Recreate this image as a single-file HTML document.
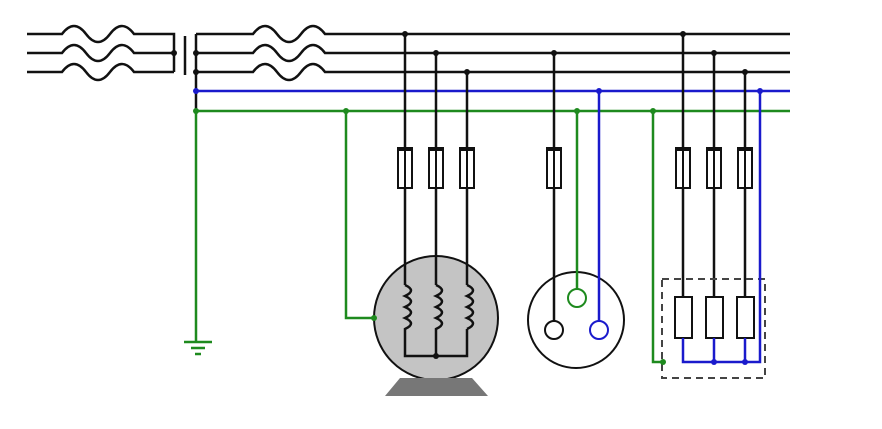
<!DOCTYPE html><html><head><style>body{margin:0;background:#fff}</style></head><body>
<svg width="882" height="424" viewBox="0 0 882 424" xmlns="http://www.w3.org/2000/svg" fill="none" stroke-width="2.5">
<g stroke="#111">
<path d="M27 34H62 q6 -8 12 -8 q6 0 12 8 q6 8 12 8 q6 0 12 -8 q6 -8 12 -8 q6 0 12 8H174V72"/>
<path d="M27 53H62 q6 -8 12 -8 q6 0 12 8 q6 8 12 8 q6 0 12 -8 q6 -8 12 -8 q6 0 12 8H174"/>
<path d="M27 72H62 q6 -8 12 -8 q6 0 12 8 q6 8 12 8 q6 0 12 -8 q6 -8 12 -8 q6 0 12 8H174"/>
<path d="M185 36V75"/>
<path d="M196 34H253 q6 -8 12 -8 q6 0 12 8 q6 8 12 8 q6 0 12 -8 q6 -8 12 -8 q6 0 12 8H790"/>
<path d="M196 53H253 q6 -8 12 -8 q6 0 12 8 q6 8 12 8 q6 0 12 -8 q6 -8 12 -8 q6 0 12 8H790"/>
<path d="M196 72H253 q6 -8 12 -8 q6 0 12 8 q6 8 12 8 q6 0 12 -8 q6 -8 12 -8 q6 0 12 8H790"/>
<path d="M196 34V91"/>
</g>
<path d="M196 91H790" stroke="#1a1acc"/>
<path d="M196 91V111" stroke="#111"/>
<path d="M196 111H790M196 111V342M346 111V318H374" stroke="#1e8a1e"/>
<path d="M184 342H212M191 348H205M195 354H201" stroke="#1e8a1e"/>
<circle cx="436" cy="318" r="62" fill="#c4c4c4" stroke="#111" stroke-width="2"/>
<path d="M385 396L400 378H472L488 396Z" fill="#777" stroke="none"/>
<g stroke="#111">
<path d="M405 34V285M436 53V285M467 72V285"/>
<path d="M405 285 q12 5.5 0 11 q12 5.5 0 11 q12 5.5 0 11 q12 5.5 0 11V356H467V329"/>
<path d="M436 285 q12 5.5 0 11 q12 5.5 0 11 q12 5.5 0 11 q12 5.5 0 11V356"/>
<path d="M467 285 q12 5.5 0 11 q12 5.5 0 11 q12 5.5 0 11 q12 5.5 0 11"/>
<path d="M554 53V321"/>
<path d="M683 34V297M714 53V297M745 72V297"/>
</g>
<g fill="#fff" stroke="#111" stroke-width="2">
<rect x="398" y="148" width="14" height="40"/><rect x="429" y="148" width="14" height="40"/><rect x="460" y="148" width="14" height="40"/>
<rect x="547" y="148" width="14" height="40"/>
<rect x="676" y="148" width="14" height="40"/><rect x="707" y="148" width="14" height="40"/><rect x="738" y="148" width="14" height="40"/>
</g>
<g stroke="#111" stroke-width="4">
<path d="M397 149H413M428 149H444M459 149H475M546 149H562M675 149H691M706 149H722M737 149H753"/>
</g>
<g stroke="#111" stroke-width="2">
<path d="M405 148V188M436 148V188M467 148V188M554 148V188M683 148V188M714 148V188M745 148V188"/>
</g>
<circle cx="576" cy="320" r="48" stroke="#111" stroke-width="2"/>
<circle cx="554" cy="330" r="9" stroke="#111" stroke-width="2"/>
<path d="M577 111V289" stroke="#1e8a1e"/>
<circle cx="577" cy="298" r="9" stroke="#1e8a1e" stroke-width="2"/>
<path d="M599 91V321" stroke="#1a1acc"/>
<circle cx="599" cy="330" r="9" stroke="#1a1acc" stroke-width="2"/>
<rect x="662" y="279" width="103" height="99" stroke="#444" stroke-width="2" stroke-dasharray="7 5"/>
<g fill="#fff" stroke="#111" stroke-width="2">
<rect x="675" y="297" width="17" height="41"/><rect x="706" y="297" width="17" height="41"/><rect x="737" y="297" width="17" height="41"/>
</g>
<path d="M683 338V362H760V91M714 338V362M745 338V362" stroke="#1a1acc"/>
<path d="M653 111V362H663" stroke="#1e8a1e"/>
<g fill="#111">
<circle cx="174" cy="53" r="3"/><circle cx="196" cy="53" r="3"/><circle cx="196" cy="72" r="3"/>
<circle cx="405" cy="34" r="3"/><circle cx="436" cy="53" r="3"/><circle cx="467" cy="72" r="3"/>
<circle cx="554" cy="53" r="3"/><circle cx="683" cy="34" r="3"/><circle cx="714" cy="53" r="3"/><circle cx="745" cy="72" r="3"/>
<circle cx="436" cy="356" r="3"/>
</g>
<g fill="#1a1acc"><circle cx="196" cy="91" r="3"/><circle cx="599" cy="91" r="3"/><circle cx="760" cy="91" r="3"/><circle cx="714" cy="362" r="3"/><circle cx="745" cy="362" r="3"/></g>
<g fill="#1e8a1e"><circle cx="196" cy="111" r="3"/><circle cx="346" cy="111" r="3"/><circle cx="577" cy="111" r="3"/><circle cx="653" cy="111" r="3"/><circle cx="374" cy="318" r="3"/><circle cx="663" cy="362" r="3"/></g>
</svg>
</body></html>
